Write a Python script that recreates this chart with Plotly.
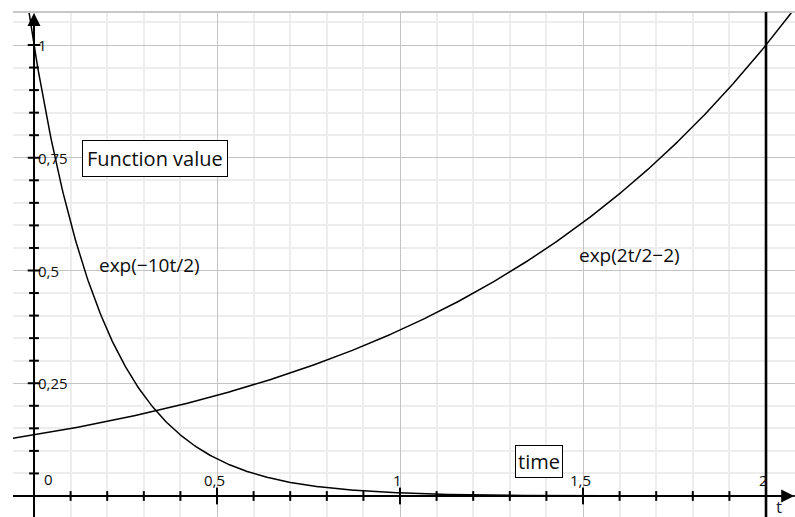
import numpy as np
import plotly.graph_objects as go

# Curve definitions (as labelled on the chart)
decay_label = "exp(\u221210t/2)"
growth_label = "exp(2t/2\u22122)"
t = np.linspace(-0.06, 2.09, 600)
decay = np.exp(-10 * t / 2)
growth = np.exp(2 * t / 2 - 2)

# Axis ticks and labels
x_minor_ticks = [0.1, 0.2, 0.3, 0.4, 0.6, 0.7, 0.8, 0.9, 1.1, 1.2, 1.3, 1.4,
                 1.6, 1.7, 1.8, 1.9]
x_major_ticks = [0.5, 1.0, 1.5, 2.0]
x_tick_labels = ["0,5", "1", "1,5", "2"]
y_minor_ticks = [0.05, 0.1, 0.15, 0.2, 0.3, 0.35, 0.4, 0.45, 0.55, 0.6, 0.65,
                 0.7, 0.8, 0.85, 0.9, 0.95]
y_major_ticks = [0.25, 0.5, 0.75, 1.0]
y_tick_labels = ["0,25", "0,5", "0,75", "1"]

x_range = [-0.0574, 2.0792]
y_range = [-0.0466, 1.0732]

FONT = "Open Sans"
INK = "#0d0d0d"

fig = go.Figure()

# Function curves
fig.add_trace(go.Scatter(x=t, y=decay, mode="lines",
                         line=dict(color="black", width=1.5), hoverinfo="skip"))
fig.add_trace(go.Scatter(x=t, y=growth, mode="lines",
                         line=dict(color="black", width=1.5), hoverinfo="skip"))

# Tick marks crossing the axes
fig.add_trace(go.Scatter(x=x_minor_ticks, y=[0] * len(x_minor_ticks), mode="markers",
                         marker=dict(symbol="line-ns", size=7,
                                     line=dict(color="black", width=2)),
                         hoverinfo="skip"))
fig.add_trace(go.Scatter(x=x_major_ticks, y=[0] * len(x_major_ticks), mode="markers",
                         marker=dict(symbol="line-ns", size=12,
                                     line=dict(color="black", width=2)),
                         hoverinfo="skip"))
fig.add_trace(go.Scatter(x=[0] * len(y_minor_ticks), y=y_minor_ticks, mode="markers",
                         marker=dict(symbol="line-ew", size=7,
                                     line=dict(color="black", width=2)),
                         hoverinfo="skip"))
fig.add_trace(go.Scatter(x=[0] * len(y_major_ticks), y=y_major_ticks, mode="markers",
                         marker=dict(symbol="line-ew", size=9,
                                     line=dict(color="black", width=2)),
                         hoverinfo="skip"))

shapes = [
    # frame line along the top
    dict(type="line", xref="paper", yref="paper", x0=0, x1=1, y0=1, y1=1,
         line=dict(color="#c8c8c8", width=2)),
    # vertical axis
    dict(type="line", xref="x", yref="paper", x0=0, x1=0, y0=0, y1=0.98,
         line=dict(color="black", width=2)),
    # horizontal axis
    dict(type="line", xref="paper", yref="y", x0=0, x1=0.99, y0=0, y1=0,
         line=dict(color="black", width=2)),
    # marker line at t = 2
    dict(type="line", xref="x", yref="paper", x0=2, x1=2, y0=0, y1=1,
         line=dict(color="black", width=2.6)),
]

annotations = [
    # axis arrow heads
    dict(x=0, y=1.071, ax=0, ay=1.0, xref="x", yref="y", axref="x", ayref="y",
         showarrow=True, arrowhead=2, arrowsize=1.3, arrowwidth=2, arrowcolor="black",
         text=""),
    dict(x=2.077, y=0, ax=2.02, ay=0, xref="x", yref="y", axref="x", ayref="y",
         showarrow=True, arrowhead=2, arrowsize=1.3, arrowwidth=2, arrowcolor="black",
         text=""),
    # axis name
    dict(x=2.035, y=0, xref="x", yref="y", text="t", showarrow=False,
         yanchor="top", yshift=-1, height=17, valign="middle", borderpad=0,
         font=dict(family=FONT, size=17, color="#1a1a40")),
    # origin label
    dict(x=0, y=0, xref="x", yref="y", text="0", showarrow=False,
         xanchor="center", xshift=14, yshift=17, font=dict(family=FONT, size=15, color=INK)),
    # curve labels
    dict(x=0.3156, y=0.512, xref="x", yref="y", text=decay_label, showarrow=False,
         font=dict(family=FONT, size=19, color=INK)),
    dict(x=1.626, y=0.534, xref="x", yref="y", text=growth_label, showarrow=False,
         font=dict(family=FONT, size=19, color=INK)),
    # boxed captions
    dict(x=0.33, y=0.748, xref="x", yref="y", text="Function value", showarrow=False,
         font=dict(family=FONT, size=20, color=INK), bordercolor="black", borderwidth=1,
         borderpad=4, bgcolor="white"),
    dict(x=1.38, y=0.0754, xref="x", yref="y", text="time", showarrow=False,
         font=dict(family=FONT, size=20, color=INK), bordercolor="black", borderwidth=1,
         borderpad=2, bgcolor="white"),
]

for v, lab in zip(x_major_ticks, x_tick_labels):
    annotations.append(dict(x=v, y=0, xref="x", yref="y", text=lab, showarrow=False,
                            xanchor="center", xshift=-3, yshift=16,
                            font=dict(family=FONT, size=15, color=INK)))
for v, lab in zip(y_major_ticks, y_tick_labels):
    annotations.append(dict(x=0, y=v, xref="x", yref="y", text=lab, showarrow=False,
                            xanchor="left", xshift=2, yanchor="middle",
                            font=dict(family=FONT, size=15, color=INK)))

fig.update_layout(
    width=795, height=517, autosize=False,
    margin=dict(l=13, r=0, t=12, b=0),
    paper_bgcolor="white", plot_bgcolor="white",
    showlegend=False,
    shapes=shapes, annotations=annotations,
    xaxis=dict(range=x_range, tick0=0, dtick=0.5, showgrid=True, gridcolor="#c4c4c4",
               gridwidth=1, zeroline=False, showticklabels=False, ticks="",
               showline=False, fixedrange=True,
               minor=dict(tick0=0, dtick=0.1, showgrid=True, gridcolor="#ededed",
                          gridwidth=1.5)),
    yaxis=dict(range=y_range, tick0=0, dtick=0.25, showgrid=True, gridcolor="#c4c4c4",
               gridwidth=1, zeroline=False, showticklabels=False, ticks="",
               showline=False, fixedrange=True,
               minor=dict(tick0=0, dtick=0.05, showgrid=True, gridcolor="#ededed",
                          gridwidth=1.5)),
)

fig.write_html("out.html")
